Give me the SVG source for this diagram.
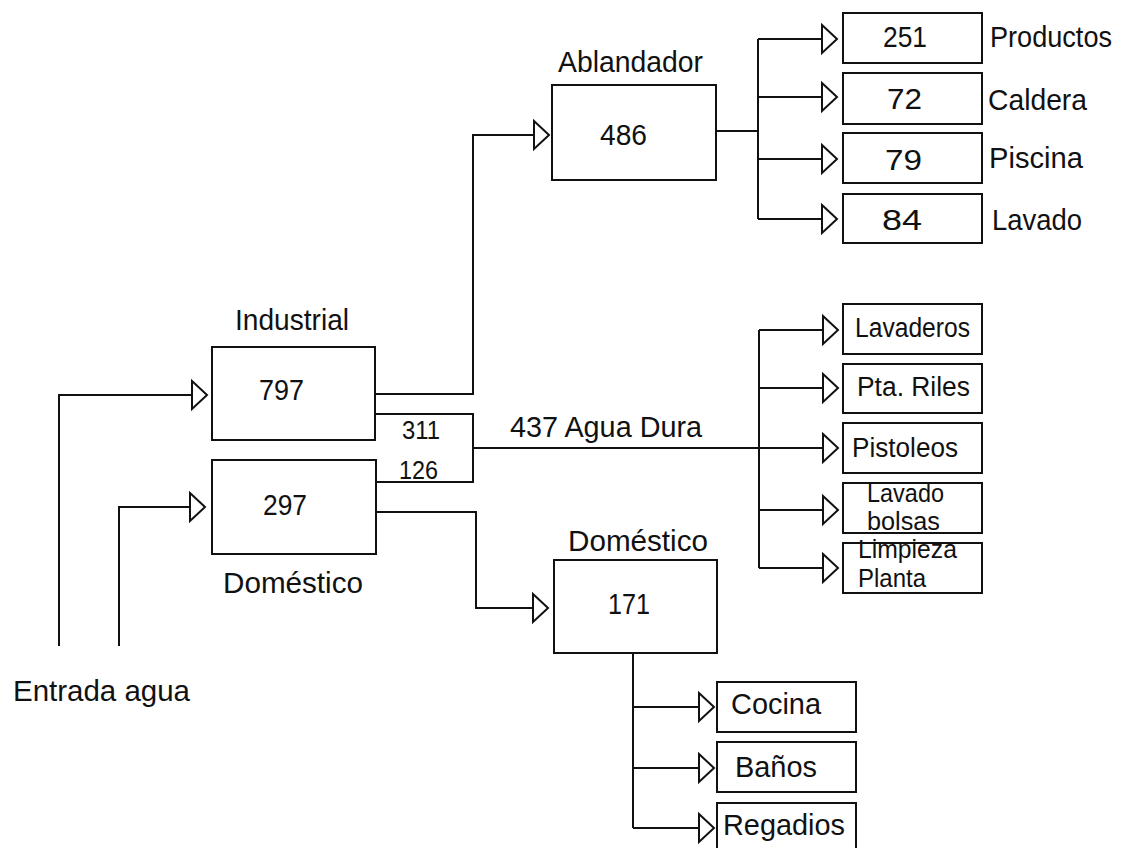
<svg xmlns="http://www.w3.org/2000/svg" width="1125" height="848" viewBox="0 0 1125 848">
  <defs>
    <marker id="arrow" markerUnits="userSpaceOnUse" markerWidth="18" markerHeight="30" refX="15" refY="14" orient="auto" overflow="visible">
      <path d="M0,0 L15,14 L0,28 Z" fill="#fff" stroke="#111" stroke-width="2" stroke-linejoin="miter"/>
    </marker>
  </defs>
  <style>
    .box { fill: #fff; stroke: #111; stroke-width: 2; }
    .wire { fill: none; stroke: #111; stroke-width: 2; }
    .arr { marker-end: url(#arrow); }
    text { font-family: "Liberation Sans", Arial, sans-serif; fill: #111; }
    .big { font-size: 29px; }
    .mid { font-size: 27px; }
    .small { font-size: 25px; }
  </style>
  <rect width="1125" height="848" fill="#fff"/>

  <!-- connectors -->
  <g id="connectors">
    <path class="wire arr" d="M59,646 V395 H207"/>
    <path class="wire arr" d="M119,646 V507 H205"/>
    <path class="wire arr" d="M375,394 H473 V135 H549"/>
    <path class="wire" d="M375,414 H473 V482 H376"/>
    <path class="wire arr" d="M473,448 H838"/>
    <path class="wire" d="M759,330 V568"/>
    <path class="wire arr" d="M759,330 H838"/>
    <path class="wire arr" d="M759,388 H838"/>
    <path class="wire arr" d="M759,510 H838"/>
    <path class="wire arr" d="M759,568 H838"/>
    <path class="wire" d="M716,131 H758"/>
    <path class="wire" d="M758,39 V219"/>
    <path class="wire arr" d="M758,39 H837"/>
    <path class="wire arr" d="M758,97 H837"/>
    <path class="wire arr" d="M758,159 H837"/>
    <path class="wire arr" d="M758,219 H837"/>
    <path class="wire arr" d="M376,512 H476 V608 H548"/>
    <path class="wire" d="M633,653 V828"/>
    <path class="wire arr" d="M633,707 H714"/>
    <path class="wire arr" d="M633,768 H714"/>
    <path class="wire arr" d="M633,828 H714"/>
    <text class="small" x="402" y="439" textLength="38" lengthAdjust="spacingAndGlyphs">311</text>
    <text class="small" x="399" y="479" textLength="39" lengthAdjust="spacingAndGlyphs">126</text>
    <text class="big" x="510" y="437" textLength="192" lengthAdjust="spacingAndGlyphs">437 Agua Dura</text>
  </g>

  <!-- inlet -->
  <g id="entrada">
    <text class="big" x="13" y="701" textLength="177" lengthAdjust="spacingAndGlyphs">Entrada agua</text>
  </g>

  <!-- first split -->
  <g id="industrial">
    <text class="big" x="235" y="330" textLength="114" lengthAdjust="spacingAndGlyphs">Industrial</text>
    <rect class="box" x="212" y="347" width="163" height="93"/>
    <text class="big" x="259" y="400" textLength="45" lengthAdjust="spacingAndGlyphs">797</text>
  </g>
  <g id="domestico">
    <rect class="box" x="212" y="460" width="164" height="94"/>
    <text class="big" x="263" y="515" textLength="44" lengthAdjust="spacingAndGlyphs">297</text>
    <text class="big" x="223" y="593" textLength="140" lengthAdjust="spacingAndGlyphs">Doméstico</text>
  </g>

  <!-- softener and its users -->
  <g id="ablandador">
    <text class="big" x="558" y="72" textLength="145" lengthAdjust="spacingAndGlyphs">Ablandador</text>
    <rect class="box" x="552" y="85" width="164" height="95"/>
    <text class="big" x="600" y="145" textLength="47" lengthAdjust="spacingAndGlyphs">486</text>
  </g>
  <g id="productos">
    <rect class="box" x="843" y="13" width="139" height="50"/>
    <text class="big" x="883" y="47" textLength="44" lengthAdjust="spacingAndGlyphs">251</text>
    <text class="big" x="990" y="47" textLength="122" lengthAdjust="spacingAndGlyphs">Productos</text>
  </g>
  <g id="caldera">
    <rect class="box" x="843" y="73" width="139" height="51"/>
    <text class="big" x="887" y="109" textLength="35" lengthAdjust="spacingAndGlyphs">72</text>
    <text class="big" x="988" y="110" textLength="99" lengthAdjust="spacingAndGlyphs">Caldera</text>
  </g>
  <g id="piscina">
    <rect class="box" x="843" y="133" width="139" height="50"/>
    <text class="big" x="885" y="170" textLength="37" lengthAdjust="spacingAndGlyphs">79</text>
    <text class="big" x="989" y="168" textLength="94" lengthAdjust="spacingAndGlyphs">Piscina</text>
  </g>
  <g id="lavado">
    <rect class="box" x="843" y="194" width="139" height="49"/>
    <text class="big" x="882" y="230" textLength="40" lengthAdjust="spacingAndGlyphs">84</text>
    <text class="big" x="992" y="230" textLength="90" lengthAdjust="spacingAndGlyphs">Lavado</text>
  </g>

  <!-- hard water users -->
  <g id="lavaderos">
    <rect class="box" x="843" y="304" width="139" height="50"/>
    <text class="mid" x="855" y="337" textLength="115" lengthAdjust="spacingAndGlyphs">Lavaderos</text>
  </g>
  <g id="pta-riles">
    <rect class="box" x="843" y="364" width="139" height="49"/>
    <text class="mid" x="857" y="396" textLength="113" lengthAdjust="spacingAndGlyphs">Pta. Riles</text>
  </g>
  <g id="pistoleos">
    <rect class="box" x="843" y="423" width="139" height="50"/>
    <text class="mid" x="852" y="457" textLength="106" lengthAdjust="spacingAndGlyphs">Pistoleos</text>
  </g>
  <g id="lavado-bolsas">
    <rect class="box" x="843" y="483" width="139" height="50"/>
    <text class="small" x="867" y="502" textLength="77" lengthAdjust="spacingAndGlyphs">Lavado</text>
    <text class="small" x="867" y="530" textLength="73" lengthAdjust="spacingAndGlyphs">bolsas</text>
  </g>
  <g id="limpieza-planta">
    <rect class="box" x="843" y="543" width="139" height="50"/>
    <text class="small" x="858" y="558" textLength="99" lengthAdjust="spacingAndGlyphs">Limpieza</text>
    <text class="small" x="858" y="587" textLength="68" lengthAdjust="spacingAndGlyphs">Planta</text>
  </g>

  <!-- domestic branch -->
  <g id="domestico-uso">
    <text class="big" x="568" y="551" textLength="140" lengthAdjust="spacingAndGlyphs">Doméstico</text>
    <rect class="box" x="554" y="560" width="163" height="93"/>
    <text class="big" x="608" y="614" textLength="42" lengthAdjust="spacingAndGlyphs">171</text>
  </g>
  <g id="cocina">
    <rect class="box" x="717" y="682" width="139" height="50"/>
    <text class="big" x="731" y="714" textLength="90" lengthAdjust="spacingAndGlyphs">Cocina</text>
  </g>
  <g id="banos">
    <rect class="box" x="717" y="742" width="139" height="50"/>
    <text class="big" x="735" y="777" textLength="82" lengthAdjust="spacingAndGlyphs">Baños</text>
  </g>
  <g id="regadios">
    <rect class="box" x="717" y="803" width="139" height="60"/>
    <text class="big" x="723" y="835" textLength="122" lengthAdjust="spacingAndGlyphs">Regadios</text>
  </g>
</svg>
